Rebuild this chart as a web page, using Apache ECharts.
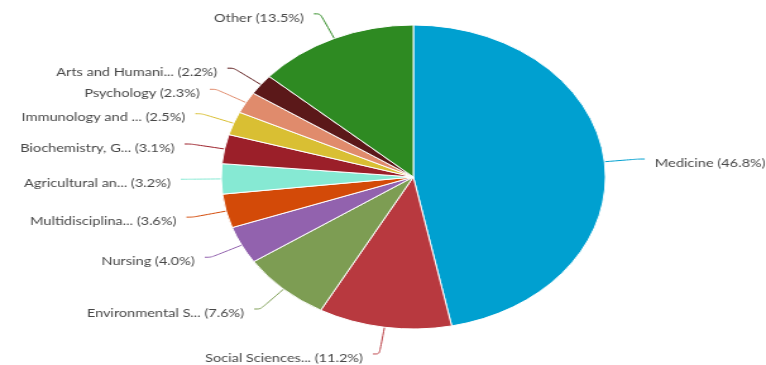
<!DOCTYPE html>
<html>
<head>
<meta charset="utf-8">
<script src="https://cdn.jsdelivr.net/npm/echarts@6/dist/echarts.min.js"></script>
<style>
  html, body { margin: 0; padding: 0; background: #fff; overflow: hidden; }
  #wrap { width: 766px; height: 365px; overflow: hidden; position: relative; }
  #chart { width: 680px; height: 365px; transform: scaleX(1.264); transform-origin: 0 0; }
</style>
</head>
<body>
<div id="wrap"><div id="chart"></div></div>
<script>
// Share of publications by subject area
const categories = [
  'Medicine', 'Social Sciences...', 'Environmental S...', 'Nursing',
  'Multidisciplina...', 'Agricultural an...', 'Biochemistry, G...',
  'Immunology and ...', 'Psychology', 'Arts and Humani...', 'Other'
];
const shares = [46.8, 11.2, 7.6, 4.0, 3.6, 3.2, 3.1, 2.5, 2.3, 2.2, 13.5];
const colors = [
  '#00a0d0', '#b8393f', '#7d9d53', '#9262ae', '#d34a08', '#86e9d3',
  '#9b1f29', '#d9bf33', '#e08b6c', '#5b1819', '#2e8a22'
];

const chart = echarts.init(document.getElementById('chart'), null, { renderer: 'canvas' });
chart.setOption({
  animation: false,
  series: [{
    type: 'pie',
    center: [327, 177],
    radius: 152,
    startAngle: 90,
    clockwise: true,
    avoidLabelOverlap: true,
    itemStyle: { borderColor: '#fff', borderWidth: 1 },
    label: {
      show: true,
      color: '#474747',
      fontFamily: 'Lato',
      fontSize: 11.5,
      overflow: 'none',
      offset: [0, 4],
      distanceToLabelLine: 8,
      formatter: p => p.name + ' (' + p.value.toFixed(1) + '%)'
    },
    labelLine: { show: true, length: 27, length2: 5, smooth: 0.3, lineStyle: { width: 1 } },
    data: categories.map((name, i) => ({
      name, value: shares[i],
      itemStyle: { color: colors[i] },
      labelLine: { lineStyle: { color: colors[i] } }
    }))
  }]
});
</script>
</body>
</html>
